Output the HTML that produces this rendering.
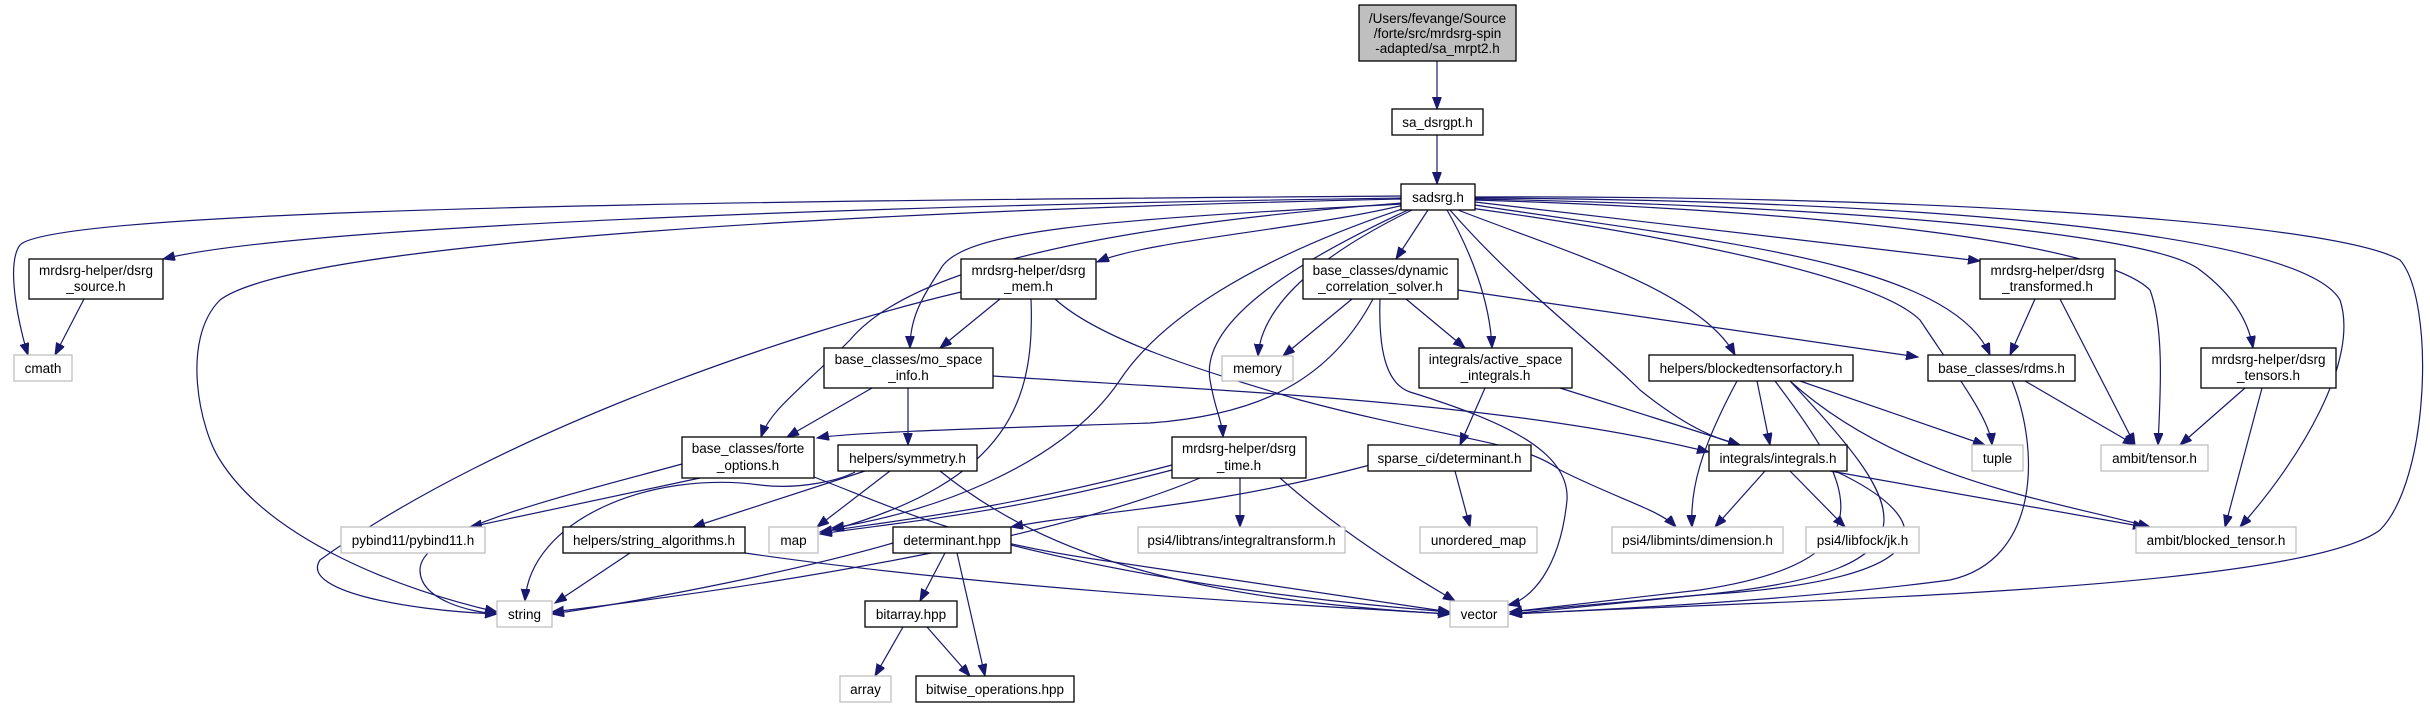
<!DOCTYPE html>
<html><head><meta charset="utf-8"><style>
html,body{margin:0;padding:0;background:#fff;}
svg{display:block;}
text{font-family:"Liberation Sans",sans-serif;font-size:13.5px;fill:#000;}
.b{fill:#fff;stroke:#000;stroke-width:1.3;}
.g{fill:#fff;stroke:#bfbfbf;stroke-width:1.3;}
.e{fill:none;stroke:#191970;stroke-width:1.2;marker-end:url(#a);}
</style></head><body>
<svg width="2430" height="708" viewBox="0 0 2430 708" xmlns="http://www.w3.org/2000/svg">
<defs><marker id="a" markerUnits="userSpaceOnUse" markerWidth="14" markerHeight="10" refX="12" refY="4.5" orient="auto"><path d="M0,0 L12,4.5 L0,9 z" fill="#191970" stroke="#191970"/></marker></defs>

<path class="e" d="M1437,61 L1437,109"/>
<path class="e" d="M1437,135 L1437,184"/>
<path class="e" d="M1401,196 C900,200 60,205 20,245 C5,265 20,330 28,355"/>
<path class="e" d="M1401,198 C900,205 300,225 163,259"/>
<path class="e" d="M1401,199 C900,210 300,240 220,300 C180,340 200,430 220,460 C270,540 400,590 497,612"/>
<path class="e" d="M1402,203 C1050,230 900,280 850,340 C800,390 770,410 761,437"/>
<path class="e" d="M1404,205 C1300,230 1150,240 1097,262"/>
<path class="e" d="M1403,204 C1100,220 960,230 940,270 C920,300 910,320 910,348"/>
<path class="e" d="M1405,208 C1250,260 1160,320 1120,380 C1060,470 920,515 832,528"/>
<path class="e" d="M1408,210 C1300,260 1200,320 1210,380 C1215,410 1222,420 1223,437"/>
<path class="e" d="M1412,210 C1330,250 1262,300 1258,356"/>
<path class="e" d="M1428,210 L1396,259"/>
<path class="e" d="M1447,210 C1470,250 1490,300 1492,348"/>
<path class="e" d="M1450,210 C1520,290 1590,340 1640,390 C1690,430 1720,440 1740,445"/>
<path class="e" d="M1458,210 C1560,250 1700,290 1735,355"/>
<path class="e" d="M1470,208 C1700,240 1880,280 1920,320 C1960,380 1990,420 1992,445"/>
<path class="e" d="M1475,205 C1700,240 1950,260 1990,355"/>
<path class="e" d="M1475,202 L1980,261"/>
<path class="e" d="M1475,200 C1800,210 2100,240 2150,290 C2165,330 2160,400 2158,445"/>
<path class="e" d="M1475,199 C1800,205 2150,230 2200,270 C2240,300 2250,330 2253,348"/>
<path class="e" d="M1475,198 C1900,200 2300,230 2340,300 C2360,360 2300,460 2240,527"/>
<path class="e" d="M1475,197 C1900,195 2330,220 2400,260 C2435,300 2430,480 2380,530 C2300,590 1800,600 1510,614"/>
<path class="e" d="M84,299 L55,355"/>
<path class="e" d="M1000,299 L940,348"/>
<path class="e" d="M961,292 C800,330 500,430 320,560 C300,590 400,610 497,614"/>
<path class="e" d="M1031,299 C1035,400 1010,480 832,530"/>
<path class="e" d="M1055,299 C1100,340 1200,370 1300,400 C1450,440 1520,440 1560,470 C1620,500 1660,510 1676,527"/>
<path class="e" d="M872,388 L787,437"/>
<path class="e" d="M908,388 L908,445"/>
<path class="e" d="M993,376 C1200,390 1500,400 1709,452"/>
<path class="e" d="M1373,299 C1330,380 1260,415 1150,423 C1000,428 850,432 817,438"/>
<path class="e" d="M1352,299 L1283,356"/>
<path class="e" d="M1406,299 L1465,348"/>
<path class="e" d="M1380,299 C1378,360 1390,385 1410,392 C1500,420 1570,450 1567,500 C1560,570 1530,600 1508,605"/>
<path class="e" d="M1458,290 L1918,357"/>
<path class="e" d="M1485,388 L1460,445"/>
<path class="e" d="M1560,388 L1740,445"/>
<path class="e" d="M1737,381 C1700,450 1690,490 1692,527"/>
<path class="e" d="M1757,381 L1770,445"/>
<path class="e" d="M1775,381 C1850,480 1900,560 1700,590 L1510,612"/>
<path class="e" d="M1790,381 C1900,500 1960,570 1700,595 L1510,614"/>
<path class="e" d="M1800,381 L1985,445"/>
<path class="e" d="M1790,381 C1900,480 2050,500 2150,527"/>
<path class="e" d="M2025,381 L2135,445"/>
<path class="e" d="M2012,381 C2040,450 2040,560 1950,580 C1800,600 1600,610 1510,614"/>
<path class="e" d="M2035,299 L2010,355"/>
<path class="e" d="M2060,299 L2135,445"/>
<path class="e" d="M2245,388 L2180,445"/>
<path class="e" d="M2262,388 L2225,527"/>
<path class="e" d="M1765,471 L1715,527"/>
<path class="e" d="M1790,471 L1845,527"/>
<path class="e" d="M1830,471 L2145,527"/>
<path class="e" d="M1835,471 C1940,520 1950,580 1700,595 L1510,612"/>
<path class="e" d="M700,478 L470,527"/>
<path class="e" d="M682,464 C550,500 420,530 420,570 C420,600 470,612 497,614"/>
<path class="e" d="M814,477 C900,510 960,540 1100,560 C1300,590 1400,605 1450,612"/>
<path class="e" d="M865,471 L693,527"/>
<path class="e" d="M890,471 L817,527"/>
<path class="e" d="M855,472 C840,480 800,490 760,485 C650,470 530,520 525,601"/>
<path class="e" d="M940,471 C1050,560 1200,600 1450,614"/>
<path class="e" d="M630,553 L555,603"/>
<path class="e" d="M745,553 C1000,590 1300,605 1450,614"/>
<path class="e" d="M1172,465 C1000,510 900,520 820,532"/>
<path class="e" d="M1172,470 C1000,515 900,522 820,534"/>
<path class="e" d="M1200,478 C1100,520 900,570 552,612"/>
<path class="e" d="M1240,478 L1240,527"/>
<path class="e" d="M1280,478 C1350,540 1420,580 1455,601"/>
<path class="e" d="M1370,465 C1200,510 1100,510 1011,527"/>
<path class="e" d="M1455,471 L1470,527"/>
<path class="e" d="M893,543 C800,570 650,600 552,614"/>
<path class="e" d="M1011,545 C1150,580 1300,600 1450,612"/>
<path class="e" d="M945,553 L920,601"/>
<path class="e" d="M957,553 L985,676"/>
<path class="e" d="M903,627 L875,676"/>
<path class="e" d="M927,627 L970,676"/>

<rect x="1359" y="5" width="157" height="56" fill="#bfbfbf" stroke="#000" stroke-width="1.3"/>
<text x="1437.5" y="23" text-anchor="middle">/Users/fevange/Source</text>
<text x="1437.5" y="38" text-anchor="middle">/forte/src/mrdsrg-spin</text>
<text x="1437.5" y="53" text-anchor="middle">-adapted/sa_mrpt2.h</text>

<g text-anchor="middle">
<rect class="b" x="1392" y="109" width="91" height="26"/><text x="1437.5" y="127">sa_dsrgpt.h</text>
<rect class="b" x="1401" y="184" width="74" height="26"/><text x="1438" y="202">sadsrg.h</text>
<rect class="b" x="29" y="259" width="134" height="40"/><text x="96" y="275">mrdsrg-helper/dsrg</text><text x="96" y="291">_source.h</text>
<rect class="b" x="961" y="259" width="135" height="40"/><text x="1028.5" y="275">mrdsrg-helper/dsrg</text><text x="1028.5" y="291">_mem.h</text>
<rect class="b" x="1303" y="259" width="155" height="40"/><text x="1380.5" y="275">base_classes/dynamic</text><text x="1380.5" y="291">_correlation_solver.h</text>
<rect class="b" x="1980" y="259" width="135" height="40"/><text x="2047.5" y="275">mrdsrg-helper/dsrg</text><text x="2047.5" y="291">_transformed.h</text>
<rect class="g" x="14" y="355" width="58" height="26"/><text x="43" y="373">cmath</text>
<rect class="b" x="824" y="348" width="169" height="40"/><text x="908.5" y="364">base_classes/mo_space</text><text x="908.5" y="380">_info.h</text>
<rect class="g" x="1222" y="356" width="71" height="25"/><text x="1257.5" y="373">memory</text>
<rect class="b" x="1419" y="348" width="153" height="40"/><text x="1495.5" y="364">integrals/active_space</text><text x="1495.5" y="380">_integrals.h</text>
<rect class="b" x="1649" y="355" width="204" height="26"/><text x="1751" y="373">helpers/blockedtensorfactory.h</text>
<rect class="b" x="1928" y="355" width="147" height="26"/><text x="2001.5" y="373">base_classes/rdms.h</text>
<rect class="b" x="2201" y="348" width="135" height="40"/><text x="2268.5" y="364">mrdsrg-helper/dsrg</text><text x="2268.5" y="380">_tensors.h</text>
<rect class="b" x="682" y="437" width="132" height="41"/><text x="748" y="453">base_classes/forte</text><text x="748" y="470">_options.h</text>
<rect class="b" x="838" y="445" width="139" height="26"/><text x="907.5" y="463">helpers/symmetry.h</text>
<rect class="b" x="1172" y="437" width="134" height="41"/><text x="1239" y="453">mrdsrg-helper/dsrg</text><text x="1239" y="470">_time.h</text>
<rect class="b" x="1368" y="445" width="163" height="26"/><text x="1449.5" y="463">sparse_ci/determinant.h</text>
<rect class="b" x="1709" y="445" width="138" height="26"/><text x="1778" y="463">integrals/integrals.h</text>
<rect class="g" x="1972" y="445" width="51" height="26"/><text x="1997.5" y="463">tuple</text>
<rect class="g" x="2101" y="445" width="107" height="26"/><text x="2154.5" y="463">ambit/tensor.h</text>
<rect class="g" x="341" y="527" width="144" height="26"/><text x="413" y="545">pybind11/pybind11.h</text>
<rect class="b" x="563" y="527" width="182" height="26"/><text x="654" y="545">helpers/string_algorithms.h</text>
<rect class="g" x="769" y="527" width="49" height="26"/><text x="793.5" y="545">map</text>
<rect class="b" x="893" y="527" width="118" height="26"/><text x="952" y="545">determinant.hpp</text>
<rect class="g" x="1138" y="527" width="207" height="26"/><text x="1241.5" y="545">psi4/libtrans/integraltransform.h</text>
<rect class="g" x="1420" y="527" width="117" height="26"/><text x="1478.5" y="545">unordered_map</text>
<rect class="g" x="1612" y="527" width="171" height="26"/><text x="1697.5" y="545">psi4/libmints/dimension.h</text>
<rect class="g" x="1806" y="527" width="113" height="26"/><text x="1862.5" y="545">psi4/libfock/jk.h</text>
<rect class="g" x="2136" y="527" width="160" height="26"/><text x="2216" y="545">ambit/blocked_tensor.h</text>
<rect class="g" x="497" y="601" width="55" height="26"/><text x="524.5" y="619">string</text>
<rect class="b" x="865" y="601" width="92" height="26"/><text x="911" y="619">bitarray.hpp</text>
<rect class="g" x="1450" y="601" width="58" height="26"/><text x="1479" y="619">vector</text>
<rect class="g" x="840" y="676" width="51" height="26"/><text x="865.5" y="694">array</text>
<rect class="b" x="916" y="676" width="158" height="26"/><text x="995" y="694">bitwise_operations.hpp</text>
</g>
</svg>
</body></html>
